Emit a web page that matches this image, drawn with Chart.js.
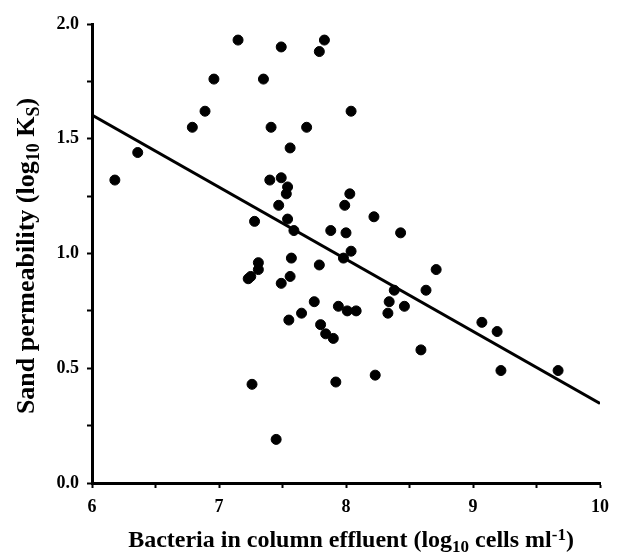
<!DOCTYPE html>
<html>
<head>
<meta charset="utf-8">
<script src="https://cdn.jsdelivr.net/npm/chart.js@4"></script>
<style>
  html, body { margin: 0; padding: 0; background: #fff; }
  #wrap { width: 618px; height: 552px; }
</style>
</head>
<body>
<div id="wrap"><canvas id="scatter-chart"></canvas></div>
<script>
// bacteria in effluent (log10 cells/ml) vs sand permeability (log10 Ks)
var bacteria = [7.15, 7.49, 7.83, 7.79, 6.96, 7.35, 6.89, 8.04, 6.79, 7.41, 7.69, 7.56,
  6.36, 6.18, 7.40, 7.49, 7.54, 7.53, 7.47, 8.03, 7.99, 7.28, 7.54, 7.59, 7.88, 8.00,
  8.22, 8.43, 7.57, 8.04, 7.98, 7.79, 7.31, 7.31, 7.25, 7.23, 7.56, 7.49, 7.75, 7.94,
  8.01, 8.08, 7.65, 7.55, 7.80, 7.84, 7.90, 7.26, 7.92, 7.45, 8.71, 8.38, 8.63, 8.34,
  8.46, 8.33, 9.07, 9.19, 8.59, 8.23, 9.22, 9.67];
var permeability = [1.93, 1.90, 1.93, 1.88, 1.76, 1.76, 1.62, 1.62, 1.55, 1.55, 1.55, 1.46,
  1.44, 1.32, 1.32, 1.33, 1.29, 1.26, 1.21, 1.26, 1.21, 1.14, 1.15, 1.10, 1.10, 1.09,
  1.16, 1.09, 0.98, 1.01, 0.98, 0.95, 0.96, 0.93, 0.90, 0.89, 0.90, 0.87, 0.79, 0.77,
  0.75, 0.75, 0.74, 0.71, 0.69, 0.65, 0.63, 0.43, 0.44, 0.19, 0.93, 0.84, 0.84, 0.79,
  0.77, 0.74, 0.70, 0.66, 0.58, 0.47, 0.49, 0.49];
var fitX = [6, 10];
var fitY = [1.603, 0.347];
var xTicks = [6, 7, 8, 9, 10];
var yTicks = [0.0, 0.5, 1.0, 1.5, 2.0];

var points = bacteria.map(function (b, i) { return { x: b, y: permeability[i] }; });
var fitLine = fitX.map(function (x, i) { return { x: x, y: fitY[i] }; });

var serif = "'Liberation Serif', 'Times New Roman', serif";

// axis titles need sub/superscripts, so they are drawn by hand
function drawParts(ctx, parts, size) {
  var small = Math.round(size * 0.7);
  var w = 0;
  parts.forEach(function (p) {
    ctx.font = 'bold ' + (p[1] ? small : size) + 'px ' + serif;
    w += ctx.measureText(p[0]).width;
  });
  var x = -w / 2;
  parts.forEach(function (p) {
    ctx.font = 'bold ' + (p[1] ? small : size) + 'px ' + serif;
    var dy = p[1] === 'sub' ? size * 0.2 : (p[1] === 'sup' ? -size * 0.3 : 0);
    ctx.fillText(p[0], x, dy);
    x += ctx.measureText(p[0]).width;
  });
}

var axisTitles = {
  id: 'axisTitles',
  afterDraw: function (chart) {
    var ctx = chart.ctx;
    ctx.save();
    ctx.fillStyle = '#000';
    ctx.textBaseline = 'alphabetic';
    ctx.textAlign = 'left';
    ctx.translate(351, 547);
    drawParts(ctx, [['Bacteria in column effluent (log'], ['10', 'sub'], [' cells ml'], ['-1', 'sup'], [')']], 24);
    ctx.restore();

    ctx.save();
    ctx.fillStyle = '#000';
    ctx.textBaseline = 'alphabetic';
    ctx.textAlign = 'left';
    ctx.translate(34, 256);
    ctx.rotate(-Math.PI / 2);
    drawParts(ctx, [['Sand permeability (log'], ['10', 'sub'], [' K'], ['S', 'sub'], [')']], 26);
    ctx.restore();
  }
};

new Chart(document.getElementById('scatter-chart'), {
  type: 'scatter',
  data: {
    datasets: [{
      label: 'Columns',
      data: points,
      backgroundColor: '#000',
      borderColor: '#000',
      pointRadius: 5,
      pointHoverRadius: 5
    }, {
      label: 'Fit',
      data: fitLine,
      showLine: true,
      borderColor: '#000',
      borderWidth: 3,
      pointRadius: 0,
      fill: false
    }]
  },
  options: {
    responsive: true,
    maintainAspectRatio: false,
    animation: false,
    events: [],
    layout: { padding: { top: 24, right: 14, left: 0, bottom: 0 } },
    plugins: { legend: { display: false }, tooltip: { enabled: false } },
    scales: {
      x: {
        type: 'linear',
        min: 6, max: 10,
        border: { color: '#000', width: 3 },
        grid: { drawOnChartArea: false, color: '#000', tickLength: 5, tickWidth: 2 },
        ticks: {
          stepSize: 0.5,
          autoSkip: false,
          maxRotation: 0,
          color: '#000',
          padding: 9,
          font: { family: serif, size: 18, weight: 'bold' },
          callback: function (v) { return xTicks.indexOf(v) >= 0 ? String(v) : ''; }
        },
        afterFit: function (s) { s.height = 69; }
      },
      y: {
        type: 'linear',
        min: 0, max: 2,
        border: { color: '#000', width: 3 },
        grid: { drawOnChartArea: false, color: '#000', tickLength: 5, tickWidth: 2 },
        ticks: {
          stepSize: 0.25,
          autoSkip: false,
          color: '#000',
          padding: 8,
          font: { family: serif, size: 18, weight: 'bold' },
          callback: function (v) { return yTicks.indexOf(v) >= 0 ? v.toFixed(1) : ''; }
        },
        afterFit: function (s) { s.width = 92; }
      }
    }
  },
  plugins: [axisTitles]
});
</script>
</body>
</html>
